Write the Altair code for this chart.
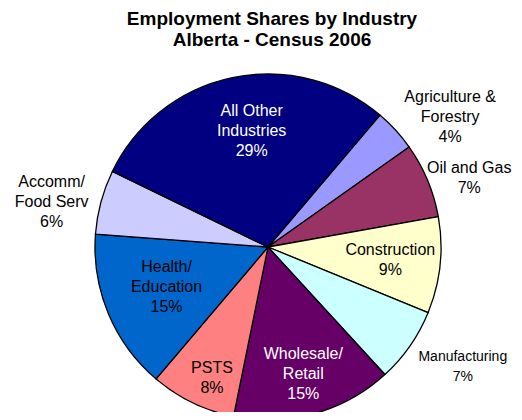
import math
import altair as alt
import pandas as pd

industries = ["Agriculture & Forestry", "Oil and Gas", "Construction", "Manufacturing",
              "Wholesale/Retail", "PSTS", "Health/Education", "Accomm/Food Serv",
              "All Other Industries"]
labels = ["Agriculture &\nForestry\n4%", "Oil and Gas\n7%", "Construction\n9%",
          "Manufacturing\n7%", "Wholesale/\nRetail\n15%", "PSTS\n8%",
          "Health/\nEducation\n15%", "Accomm/\nFood Serv\n6%", "All Other\nIndustries\n29%"]
shares = [4, 7, 9, 7, 15, 8, 15, 6, 29]
colors = ["#9999FF", "#993366", "#FFFFCC", "#CCFFFF", "#660066", "#FF8080",
          "#0066CC", "#CCCCFF", "#000080"]

df = pd.DataFrame({"industry": industries, "label": labels, "share": shares,
                   "order": list(range(len(industries)))})

start = math.radians(40.3)
theta_scale = alt.Scale(domain=[0, 100], range=[start, start + 2 * math.pi])
color_scale = alt.Scale(domain=industries, range=colors)

base = (alt.Chart(df)
        .transform_window(cum="sum(share)", sort=[alt.SortField("order")], frame=[None, 0])
        .transform_calculate(st="datum.cum - datum.share", mid="datum.cum - datum.share / 2"))

arcs = base.mark_arc(radius=173, stroke="black", strokeWidth=1.3).encode(
    theta=alt.Theta("st:Q", scale=theta_scale, stack=False),
    theta2="cum:Q",
    color=alt.Color("industry:N", scale=color_scale, legend=None),
    order=alt.Order("order:Q"),
)

LH = 20
# label styles: radius, dx, dy (of block centre), font size, colour
styles = {
    "Agriculture & Forestry": (224, 17, 21, 16, "black"),
    "Oil and Gas": (217, 1, 15, 16, "black"),
    "Construction": (123, 0, 0, 16, "black"),
    "Manufacturing": (229, 7, -11, 14, "black"),
    "Wholesale/Retail": (132, 0, 0, 16, "white"),
    "PSTS": (142, 6, 3, 16, "black"),
    "Health/Education": (110, 0, -2, 16, "black"),
    "Accomm/Food Serv": (221, -3, 13, 16, "black"),
    "All Other Industries": (118, 8, -1, 16, "white"),
}

layers = [arcs]
for name, (r, dx, dy, fs, col) in styles.items():
    n_lines = labels[industries.index(name)].count("\n") + 1
    layers.append(
        base.transform_filter(alt.datum.industry == name)
        .mark_text(radius=r, dx=dx, dy=dy - (n_lines - 1) * LH / 2, fontSize=fs, color=col,
                   font="Liberation Sans", lineBreak="\n", lineHeight=LH,
                   align="center", baseline="middle")
        .encode(theta=alt.Theta("mid:Q", scale=theta_scale, stack=False), text="label:N")
    )

chart = alt.layer(*layers).properties(
    width=492, height=330,
    padding={"left": 14, "top": 74, "right": 0, "bottom": 0},
    autosize=alt.AutoSizeParams(type="none"),
    title=alt.TitleParams(
        text=["Employment Shares by Industry", "Alberta - Census 2006"],
        fontSize=19, font="Liberation Sans", fontWeight="bold", color="black",
        anchor="middle", lineHeight=21, offset=21, dx=4,
    ),
).configure_view(stroke=None)

chart.save("out.html", embed_options={"renderer": "svg", "actions": False})
